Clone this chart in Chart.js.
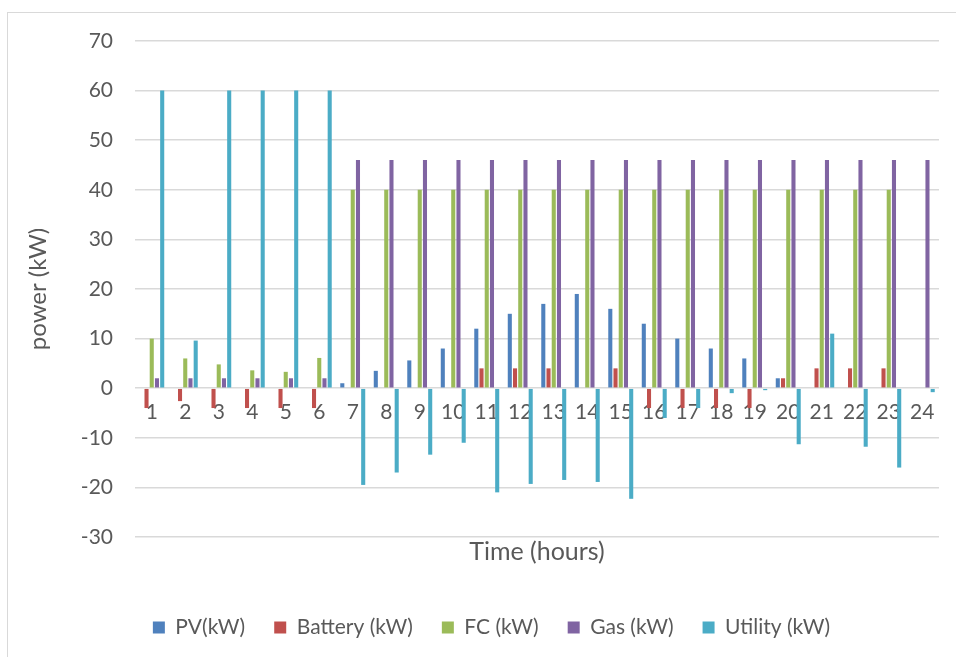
<!DOCTYPE html>
<html>
<head>
<meta charset="utf-8">
<title>Power by hour</title>
<script src="https://cdn.jsdelivr.net/npm/chart.js@4/dist/chart.umd.min.js"></script>
<style>
  html, body { margin: 0; padding: 0; background: #ffffff; }
  #frame {
    position: absolute; left: 7px; top: 12px; right: -2px; bottom: -2px;
    border-top: 1.5px solid #d9d9d9; border-left: 1.5px solid #d9d9d9;
  }
  #wrap { position: absolute; left: 0; top: 0; width: 956px; height: 657px; }
</style>
</head>
<body>
<div id="frame"></div>
<div id="wrap"><canvas id="c" width="956" height="657"></canvas></div>
<script>
// Hours of the day
const hours = ['1','2','3','4','5','6','7','8','9','10','11','12',
               '13','14','15','16','17','18','19','20','21','22','23','24'];

// Hourly power of each source (kW)
const pvKW      = [0, 0, 0, 0, 0, 0, 1, 3.5, 5.6, 8, 12, 15, 17, 19, 16, 13, 10, 8, 6, 2, 0, 0, 0, 0];
const batteryKW = [-4, -2.6, -4, -4, -4, -4, 0, 0, 0, 0, 4, 4, 4, 0, 4, -4, -4, -4, -4, 2, 4, 4, 4, 0];
const fcKW      = [10, 6, 4.8, 3.6, 3.3, 6.1, 40, 40, 40, 40, 40, 40, 40, 40, 40, 40, 40, 40, 40, 40, 40, 40, 40, 0];
const gasKW     = [2, 2, 2, 2, 2, 2, 46, 46, 46, 46, 46, 46, 46, 46, 46, 46, 46, 46, 46, 46, 46, 46, 46, 46];
const utilityKW = [60, 9.6, 60, 60, 60, 60, -19.5, -17, -13.4, -11, -21, -19.3, -18.5, -18.9, -22.3,
                   -6, -4, -1, -0.4, -11.3, 11, -11.8, -16, -0.8];

// Value axis ticks
const yMin = -30, yMax = 70, yStep = 10;

const seriesNames  = ['PV(kW)', 'Battery (kW)', 'FC (kW)', 'Gas (kW)', 'Utility (kW)'];
const seriesValues = [pvKW, batteryKW, fcKW, gasKW, utilityKW];
const seriesColors = ['#4f81bd', '#c0504d', '#9bbb59', '#8064a2', '#4bacc6'];

const textColor = '#595959';
const fontFamily = 'Lato, "Open Sans", sans-serif';

new Chart(document.getElementById('c'), {
  type: 'bar',
  data: {
    labels: hours,
    datasets: seriesNames.map((name, i) => ({
      label: name,
      data: seriesValues[i],
      backgroundColor: seriesColors[i],
      borderWidth: 0,
      xAxisID: 'x',
      yAxisID: 'y',
      categoryPercentage: 0.78,
      barPercentage: 0.78
    }))
  },
  options: {
    responsive: false,
    animation: false,
    devicePixelRatio: 1,
    layout: { padding: { left: 44, right: 17, top: 41, bottom: 9 } },
    plugins: {
      tooltip: { enabled: false },
      legend: {
        position: 'bottom',
        labels: {
          boxWidth: 12,
          boxHeight: 12,
          padding: 29,
          color: textColor,
          font: { family: fontFamily, size: 21 }
        }
      }
    },
    scales: {
      x: {
        type: 'category',
        position: { y: 0 },
        grid: { display: false, drawTicks: false },
        border: { display: false },
        ticks: {
          color: textColor,
          padding: 11,
          maxRotation: 0,
          autoSkip: false,
          font: { family: fontFamily, size: 21 }
        }
      },
      xTitle: {
        type: 'category',
        position: 'bottom',
        grid: { display: false, drawTicks: false },
        border: { display: false },
        ticks: { display: false },
        title: {
          display: true,
          text: 'Time (hours)',
          color: textColor,
          font: { family: fontFamily, size: 25 },
          padding: { top: 0, bottom: 20.6 }
        },
        afterFit: (scale) => { scale.height = 51; }
      },
      y: {
        min: yMin,
        max: yMax,
        grid: { color: '#d9d9d9', lineWidth: 1.5, drawTicks: false },
        border: { display: false },
        ticks: {
          stepSize: yStep,
          color: textColor,
          padding: 22,
          font: { family: fontFamily, size: 21 }
        },
        title: {
          display: true,
          text: 'power (kW)',
          color: textColor,
          font: { family: fontFamily, size: 24 },
          padding: { top: -20.4, bottom: 0 }
        },
        afterFit: (scale) => { scale.width = 91; }
      }
    }
  }
});
</script>
</body>
</html>
